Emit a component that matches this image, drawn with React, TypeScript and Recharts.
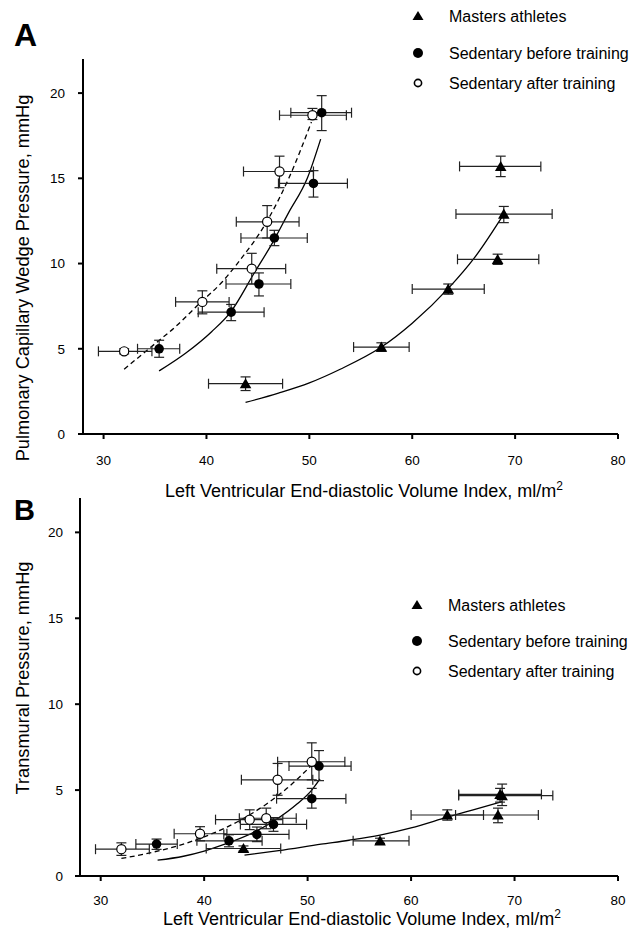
import React from 'react';
import { ComposedChart, Scatter, Line, XAxis, YAxis, ErrorBar, Legend, Label } from 'recharts';

const FONT = '"Liberation Sans", Arial, Helvetica, sans-serif';

const X_TICKS = [30, 40, 50, 60, 70, 80];
const Y_TICKS = [0, 5, 10, 15, 20];
const X_DOMAIN: [number, number] = [28, 80];
const Y_DOMAIN: [number, number] = [0, 22];
const LEGEND_LABELS = ['Masters athletes', 'Sedentary before training', 'Sedentary after training'];
const X_LABEL = 'Left Ventricular End-diastolic Volume Index, ml/m';
const X_LABEL_SUP = '2';
const Y_LABEL_A = 'Pulmonary Capillary Wedge Pressure, mmHg';
const Y_LABEL_B = 'Transmural Pressure, mmHg';
const PANEL_LETTERS = ['A', 'B'];

// rows: [x, y, xLow, xHigh, yLow, yHigh]
type Row = [number, number, number, number, number, number];

const mastersA: Row[] = [
  [43.8, 2.95, 40.2, 47.4, 2.55, 3.35],
  [57.0, 5.1, 54.3, 59.7, 4.85, 5.35],
  [63.5, 8.5, 60.0, 67.0, 8.2, 8.8],
  [68.3, 10.25, 64.4, 72.3, 9.95, 10.55],
  [68.9, 12.9, 64.25, 73.6, 12.4, 13.35],
  [68.6, 15.7, 64.6, 72.5, 15.1, 16.3],
];
const beforeA: Row[] = [
  [35.4, 5.0, 33.3, 37.4, 4.5, 5.5],
  [42.4, 7.15, 39.2, 45.6, 6.65, 7.6],
  [45.1, 8.8, 41.9, 48.2, 8.1, 9.45],
  [46.6, 11.5, 43.35, 49.8, 11.05, 11.95],
  [50.4, 14.7, 47.0, 53.7, 13.9, 15.45],
  [51.2, 18.85, 48.2, 54.1, 17.8, 19.85],
];
const afterA: Row[] = [
  [32.0, 4.85, 29.5, 34.7, 4.7, 5.0],
  [39.6, 7.75, 37.0, 42.2, 7.05, 8.4],
  [44.4, 9.7, 41.0, 47.7, 8.8, 10.6],
  [45.9, 12.45, 42.9, 49.0, 11.5, 13.4],
  [47.1, 15.4, 43.6, 50.4, 14.45, 16.3],
  [50.3, 18.7, 47.1, 53.6, 18.45, 19.1],
];

const mastersB: Row[] = [
  [43.8, 1.6, 40.2, 47.4, 1.45, 1.75],
  [57.0, 2.05, 54.4, 59.8, 1.9, 2.2],
  [63.5, 3.55, 60.0, 67.0, 3.25, 3.85],
  [68.4, 3.55, 64.3, 72.3, 3.1, 3.95],
  [68.8, 4.68, 64.6, 73.7, 4.1, 5.35],
  [68.6, 4.75, 64.6, 72.6, 4.3, 5.1],
];
const beforeB: Row[] = [
  [35.4, 1.86, 33.4, 37.4, 1.55, 2.15],
  [42.4, 2.05, 39.3, 45.6, 1.7, 2.4],
  [45.1, 2.42, 41.9, 48.2, 2.0, 2.85],
  [46.7, 3.0, 43.5, 49.9, 2.6, 3.4],
  [50.4, 4.5, 47.0, 53.7, 3.95, 5.1],
  [51.1, 6.4, 48.2, 54.2, 5.55, 7.3],
];
const afterB: Row[] = [
  [32.0, 1.56, 29.5, 34.7, 1.2, 1.93],
  [39.6, 2.46, 37.1, 42.2, 2.05, 2.87],
  [44.4, 3.28, 41.1, 47.6, 2.7, 3.85],
  [46.0, 3.36, 43.4, 48.9, 2.75, 3.95],
  [47.1, 5.6, 43.6, 50.5, 4.7, 6.55],
  [50.4, 6.65, 47.1, 53.6, 5.6, 7.75],
];

// fitted curves: [x, y]
const curveAfterA: [number, number][] = [
  [32.0, 3.8], [34.4, 5.0], [37.0, 6.3], [39.4, 7.7], [41.5, 8.9], [43.0, 10.0], [45.9, 12.5], [48.0, 15.0], [50.2, 18.3],
];
const curveBeforeA: [number, number][] = [
  [35.4, 3.7], [38.0, 4.75], [40.5, 6.0], [42.4, 7.2], [44.6, 9.4], [46.4, 11.2], [48.0, 13.0], [49.8, 15.0], [51.1, 17.3],
];
const curveMastersA: [number, number][] = [
  [43.8, 1.85], [47.0, 2.4], [50.0, 3.0], [53.0, 3.8], [57.0, 5.1], [60.0, 6.5], [63.6, 8.6], [66.0, 10.3], [68.9, 12.9],
];
const curveAfterB: [number, number][] = [
  [32.0, 1.02], [35.0, 1.38], [38.0, 1.86], [40.0, 2.28], [42.0, 2.79], [44.0, 3.42], [46.0, 4.18], [48.0, 5.1], [50.4, 6.45],
];
const curveBeforeB: [number, number][] = [
  [35.5, 0.92], [38.0, 1.15], [40.0, 1.45], [42.0, 1.85], [45.0, 2.6], [47.0, 3.3], [49.0, 4.2], [50.4, 5.0], [51.2, 5.65],
];
const curveMastersB: [number, number][] = [
  [43.9, 1.22], [47.2, 1.48], [51.3, 1.85], [54.0, 2.08], [57.0, 2.38], [60.0, 2.8], [63.5, 3.42], [66.0, 3.85], [68.8, 4.33],
];

const toPoints = (rows: Row[]) =>
  rows.map(([x, y, xl, xh, yl, yh]) => ({ x, y, ex: [x - xl, xh - x], ey: [y - yl, yh - y] }));
const toCurve = (rows: [number, number][]) => rows.map(([x, y]) => ({ x, y }));

const Triangle = (props: any) => {
  const { cx, cy } = props;
  if (cx == null || cy == null) return null;
  return <path d={`M${cx},${cy - 5.5} L${cx + 5.8},${cy + 4.6} L${cx - 5.8},${cy + 4.6} Z`} fill="#000" />;
};
const FilledDot = (props: any) => {
  const { cx, cy } = props;
  if (cx == null || cy == null) return null;
  return <circle cx={cx} cy={cy} r={4.8} fill="#000" />;
};
const OpenDot = (props: any) => {
  const { cx, cy } = props;
  if (cx == null || cy == null) return null;
  return <circle cx={cx} cy={cy} r={4.6} fill="#fff" stroke="#000" strokeWidth={1.2} />;
};

const LegendBox = ({ rowsY }: { rowsY: number[] }) => (
  <svg width={241} height={110} style={{ display: 'block', overflow: 'visible' }}>
    <path d={`M18,${rowsY[0] - 5} L23.5,${rowsY[0] + 4} L12.5,${rowsY[0] + 4} Z`} fill="#000" />
    <circle cx={18} cy={rowsY[1]} r={5} fill="#000" />
    <circle cx={18} cy={rowsY[2]} r={3.6} fill="#fff" stroke="#000" strokeWidth={1.6} />
    {LEGEND_LABELS.map((t, i) => (
      <text key={t} x={49} y={rowsY[i] + 5.5} fontSize={16} fontFamily={FONT} fill="#000">
        {t}
      </text>
    ))}
  </svg>
);

interface PanelProps {
  height: number;
  margin: { top: number; right: number; bottom: number; left: number };
  yAxisWidth: number;
  masters: Row[];
  before: Row[];
  after: Row[];
  cMasters: [number, number][];
  cBefore: [number, number][];
  cAfter: [number, number][];
  yLabel: string;
  yLabelCenter: number;
  xLabelBaseline: number;
  xLabelShift: number;
  xTickMargin: number;
  yTickMargin: number;
  legendLeft: number;
  legendTop: number;
  legendRows: number[];
}

const Panel = (p: PanelProps) => {
  const tickStyle = { fontSize: 13.5, fill: '#000', fontFamily: FONT };
  const eb = { stroke: '#222', strokeWidth: 1.2, width: 5 };
  return (
    <ComposedChart width={641} height={p.height} margin={p.margin}>
      <XAxis
        type="number"
        dataKey="x"
        domain={X_DOMAIN}
        ticks={X_TICKS}
        allowDataOverflow
        height={30}
        tickSize={5}
        tickMargin={p.xTickMargin}
        axisLine={{ stroke: '#000', strokeWidth: 2 }}
        tickLine={{ stroke: '#000', strokeWidth: 2 }}
        tick={tickStyle}
      >
        <Label
          content={(lp: any) => {
            const vb = lp.viewBox || { x: 0, y: 0, width: 0 };
            return (
              <text
                x={vb.x + vb.width / 2 + p.xLabelShift}
                y={vb.y + p.xLabelBaseline}
                textAnchor="middle"
                fontSize={18}
                fontFamily={FONT}
                fill="#000"
              >
                {X_LABEL}
                <tspan fontSize={12} dy={-7}>
                  {X_LABEL_SUP}
                </tspan>
              </text>
            );
          }}
        />
      </XAxis>
      <YAxis
        type="number"
        dataKey="y"
        domain={Y_DOMAIN}
        ticks={Y_TICKS}
        allowDataOverflow
        width={p.yAxisWidth}
        tickSize={5}
        tickMargin={p.yTickMargin}
        axisLine={{ stroke: '#000', strokeWidth: 2 }}
        tickLine={{ stroke: '#000', strokeWidth: 2 }}
        tick={tickStyle}
      >
        <Label
          content={() => (
            <text
              x={28.5}
              y={p.yLabelCenter}
              transform={`rotate(-90, 28.5, ${p.yLabelCenter})`}
              textAnchor="middle"
              fontSize={18.2}
              fontFamily={FONT}
              fill="#000"
            >
              {p.yLabel}
            </text>
          )}
        />
      </YAxis>
      <Legend
        layout="vertical"
        align="center"
        verticalAlign="middle"
        wrapperStyle={{ left: p.legendLeft, top: p.legendTop, width: 241, height: 110 }}
        content={() => <LegendBox rowsY={p.legendRows} />}
      />
      <Line data={toCurve(p.cMasters)} dataKey="y" type="monotone" dot={false} stroke="#000" strokeWidth={1.3} isAnimationActive={false} legendType="none" />
      <Line data={toCurve(p.cBefore)} dataKey="y" type="monotone" dot={false} stroke="#000" strokeWidth={1.3} isAnimationActive={false} legendType="none" />
      <Line data={toCurve(p.cAfter)} dataKey="y" type="monotone" dot={false} stroke="#000" strokeWidth={1.3} strokeDasharray="5 3.5" isAnimationActive={false} legendType="none" />
      <Scatter data={toPoints(p.masters)} dataKey="y" shape={Triangle} isAnimationActive={false}>
        <ErrorBar dataKey="ex" direction="x" {...eb} />
        <ErrorBar dataKey="ey" direction="y" {...eb} />
      </Scatter>
      <Scatter data={toPoints(p.before)} dataKey="y" shape={FilledDot} isAnimationActive={false}>
        <ErrorBar dataKey="ex" direction="x" {...eb} />
        <ErrorBar dataKey="ey" direction="y" {...eb} />
      </Scatter>
      <Scatter data={toPoints(p.after)} dataKey="y" shape={OpenDot} isAnimationActive={false}>
        <ErrorBar dataKey="ex" direction="x" {...eb} />
        <ErrorBar dataKey="ey" direction="y" {...eb} />
      </Scatter>
    </ComposedChart>
  );
};

export default function App() {
  return (
    <div style={{ position: 'absolute', left: 0, top: 0, width: 641, height: 929, background: '#fff', overflow: 'hidden' }}>
      <div style={{ position: 'absolute', left: 0, top: 0 }}>
        <Panel
          height={510}
          margin={{ top: 59, right: 23, bottom: 46, left: 0 }}
          yAxisWidth={83}
          masters={mastersA}
          before={beforeA}
          after={afterA}
          cMasters={curveMastersA}
          cBefore={curveBeforeA}
          cAfter={curveAfterA}
          yLabel={Y_LABEL_A}
          yLabelCenter={278}
          xLabelBaseline={63}
          xLabelShift={13.5}
          xTickMargin={16}
          yTickMargin={13}
          legendLeft={400}
          legendTop={0}
          legendRows={[16, 53, 83]}
        />
      </div>
      <div style={{ position: 'absolute', left: 0, top: 470 }}>
        <Panel
          height={459}
          margin={{ top: 28, right: 23, bottom: 23, left: 0 }}
          yAxisWidth={80}
          masters={mastersB}
          before={beforeB}
          after={afterB}
          cMasters={curveMastersB}
          cBefore={curveBeforeB}
          cAfter={curveAfterB}
          yLabel={Y_LABEL_B}
          yLabelCenter={208}
          xLabelBaseline={49}
          xLabelShift={13}
          xTickMargin={14}
          yTickMargin={12}
          legendLeft={399}
          legendTop={0}
          legendRows={[135, 171, 201]}
        />
      </div>
      <svg width={641} height={929} style={{ position: 'absolute', left: 0, top: 0, pointerEvents: 'none' }}>
        <text x={14} y={46} fontSize={32} fontWeight="bold" fontFamily={FONT} fill="#000">
          {PANEL_LETTERS[0]}
        </text>
        <text x={14} y={520} fontSize={29} fontWeight="bold" fontFamily={FONT} fill="#000">
          {PANEL_LETTERS[1]}
        </text>
      </svg>
    </div>
  );
}
